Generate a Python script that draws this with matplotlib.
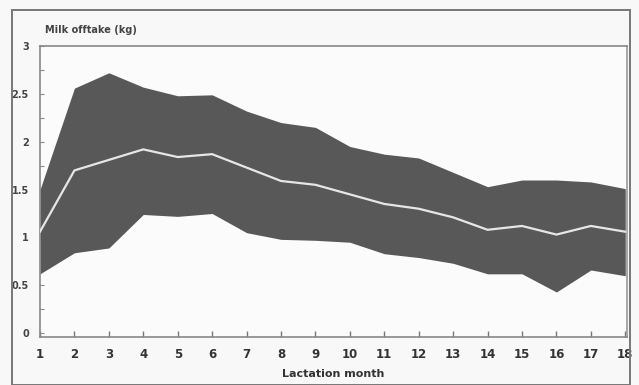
import matplotlib
matplotlib.use("Agg")
import matplotlib.pyplot as plt
from matplotlib.patches import Rectangle

months = list(range(1, 19))
upper = [1.50, 2.56, 2.72, 2.57, 2.48, 2.49, 2.32, 2.20, 2.15, 1.95, 1.87, 1.83, 1.68, 1.53, 1.60, 1.60, 1.58, 1.51]
mean = [1.06, 1.70, 1.81, 1.92, 1.84, 1.87, 1.73, 1.59, 1.55, 1.45, 1.35, 1.30, 1.21, 1.08, 1.12, 1.03, 1.12, 1.06]
lower = [0.62, 0.84, 0.89, 1.24, 1.22, 1.25, 1.05, 0.98, 0.97, 0.95, 0.83, 0.79, 0.73, 0.62, 0.62, 0.43, 0.66, 0.60]
ytick_vals = [0, 0.5, 1, 1.5, 2, 2.5, 3]
ytick_labels = ["0", "0.5", "1", "1.5", "2", "2.5", "3"]

W, H = 639, 385
fig = plt.figure(figsize=(W / 100, H / 100), dpi=100, facecolor="#f8f8f8")
ax = fig.add_axes([40 / W, 1 - 337 / H, 587 / W, (337 - 46) / H])
ax.set_facecolor("#fbfbfb")

ax.fill_between(months, lower, upper, color="#585858", linewidth=0, zorder=2)
ax.plot(months, mean, color="#e6e6e6", linewidth=1.6, zorder=3)

ax.set_xlim(1, 18.05)
ax.set_ylim(-0.04, 2.97)
ax.set_xticks(months)
ax.set_xticklabels([str(m) for m in months], fontsize=8.5, fontweight="bold", color="#333333")
ax.set_yticks(ytick_vals)
ax.set_yticklabels(ytick_labels, fontsize=7, fontweight="bold", color="#444444")
ax.set_yticks([0.25, 0.75, 1.25, 1.75, 2.25, 2.75], minor=True)
ax.tick_params(axis="x", direction="in", length=4, width=1, color="#777777", pad=8)
ax.tick_params(axis="y", which="both", direction="in", length=3, width=0.8, color="#888888", pad=8)

for s in ["left", "bottom", "top"]:
    ax.spines[s].set_color("#888888")
    ax.spines[s].set_linewidth(1.2)
ax.spines["right"].set_color("#999999")
ax.spines["right"].set_linewidth(1.2)

ax.set_xlabel("Lactation month", fontsize=8, fontweight="bold", color="#333333", labelpad=6)

fig.text(45 / W, 1 - 30 / H, "Milk offtake (kg)", fontsize=7, fontweight="bold",
         color="#444444", ha="left", va="center")

frame = Rectangle((12 / W, 0), (630 - 12) / W, 1 - 10 / H, transform=fig.transFigure,
                  fill=False, edgecolor="#777777", linewidth=1.4)
fig.patches.append(frame)

fig.savefig("out.png", dpi=100, facecolor=fig.get_facecolor())
